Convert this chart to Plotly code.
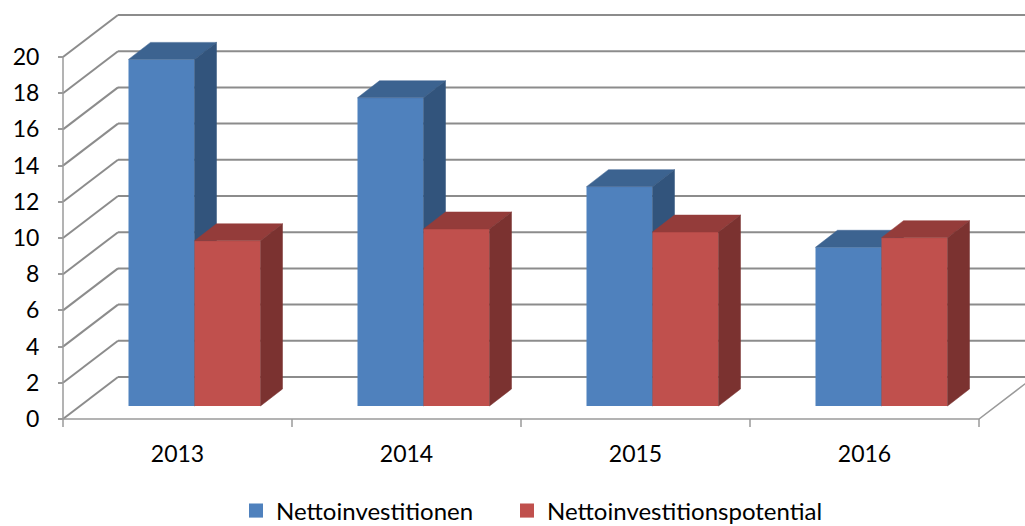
import plotly.graph_objects as go

# ---------------- data ----------------
categories = ["2013", "2014", "2015", "2016"]
netto = [19.15, 17.03, 12.12, 8.77]
potential = [9.13, 9.78, 9.61, 9.30]
y_ticks = [0, 2, 4, 6, 8, 10, 12, 14, 16, 18, 20]
series_names = ["Nettoinvestitionen", "Nettoinvestitionspotential"]

# ---------------- styling / geometry ----------------
W, H = 1025, 526
FONT = "Lato"
FS = 23
FS_LEG = 24
GRID = "#8c8c8c"
blue = dict(front="#4F81BD", top="#3C6390", side="#32547C")
red = dict(front="#C0504D", top="#943C3A", side="#7B3230")

# pixel mapping of the front plane
PX0, PY0 = 63, 419          # pixel of (x=0, y=0) on front plane
SX, SY = 229.0, 18.1        # px per category, px per value unit
L, R, T, B = 50, 1025, 5, 432  # plot area in px

xr = [(L - PX0) / SX, (R - PX0) / SX]
yr = [(PY0 - B) / SY, (PY0 - T) / SY]

# wall depth (front plane -> back wall)
dX, dY = 55 / SX, 42 / SY
# bar plane offset and bar depth
oX, oY = 17 / SX, 13 / SY
bX, bY = 22 / SX, 17 / SY
BW = 66 / SX  # bar width

n = len(categories)
centers = [i + 0.5 for i in range(n)]

fig = go.Figure()

# back wall gridlines + left wall diagonals
gx, gy = [], []
for v in y_ticks:
    gx += [dX, xr[1], None, 0, dX, None]
    gy += [v + dY, v + dY, None, v, v + dY, None]
fig.add_trace(go.Scatter(x=gx, y=gy, mode="lines", line=dict(color=GRID, width=2),
                         hoverinfo="skip", showlegend=False))
# floor front & right edges, y axis line, category ticks
fx = [0, n, n + dX, None, 0, 0, None]
fy = [0, 0, dY, None, 0, max(y_ticks), None]
for k in range(n + 1):
    fx += [k, k, None]
    fy += [0, -8 / SY, None]
fig.add_trace(go.Scatter(x=fx, y=fy, mode="lines", line=dict(color="#9a9a9a", width=1.5),
                         hoverinfo="skip", showlegend=False))


def add_series(vals, colors, xa, ya, left):
    xs = [c - BW if left else c for c in centers]
    fig.add_trace(go.Bar(x=[x + BW / 2 for x in xs], y=vals, width=BW,
                         marker=dict(color=colors["front"], line=dict(width=0)),
                         xaxis=xa, yaxis=ya, showlegend=False, hoverinfo="skip"))
    for x0, v in zip(xs, vals):
        x1 = x0 + BW
        # top face
        fig.add_trace(go.Scatter(
            x=[x0, x1, x1 + bX, x0 + bX, x0], y=[v, v, v + bY, v + bY, v],
            fill="toself", fillcolor=colors["top"], mode="lines",
            line=dict(color=colors["top"], width=0.5),
            xaxis=xa, yaxis=ya, showlegend=False, hoverinfo="skip"))
        # side face
        fig.add_trace(go.Scatter(
            x=[x1, x1, x1 + bX, x1 + bX, x1], y=[0, v, v + bY, bY, 0],
            fill="toself", fillcolor=colors["side"], mode="lines",
            line=dict(color=colors["side"], width=0.5),
            xaxis=xa, yaxis=ya, showlegend=False, hoverinfo="skip"))


add_series(netto, blue, "x2", "y2", True)
add_series(potential, red, "x3", "y3", False)

# legend entries (one legend per entry so they can be placed like the original)
for name, col, lg in zip(series_names, [blue["front"], red["front"]], ["legend", "legend2"]):
    fig.add_trace(go.Scatter(x=[None], y=[None], mode="markers", name=name, legend=lg,
                             marker=dict(symbol="square", size=14, color=col)))

LEG_Y = (H - 511) / H
leg_common = dict(orientation="h", xref="container", yref="container",
                  xanchor="left", yanchor="middle", y=LEG_Y,
                  font=dict(family=FONT, size=FS_LEG), bgcolor="rgba(0,0,0,0)")

fig.update_layout(
    width=W, height=H,
    margin=dict(l=L, r=W - R, t=T, b=H - B),
    paper_bgcolor="white", plot_bgcolor="rgba(0,0,0,0)",
    font=dict(family=FONT, size=FS, color="#000000"),
    hovermode=False,
    showlegend=True,
    legend=dict(x=236 / W, **leg_common),
    legend2=dict(x=507 / W, **leg_common),
    xaxis=dict(range=xr, anchor="free", position=(B - PY0) / (B - T),
               tickvals=centers, ticktext=categories, ticks="",
               showgrid=False, zeroline=False, showline=False,
               ticklabelstandoff=19, fixedrange=True),
    yaxis=dict(range=yr, anchor="free", position=(PX0 - L) / (R - L),
               tickvals=y_ticks, ticks="outside", ticklen=5, tickcolor="#9a9a9a",
               tickwidth=1.5, ticklabelstandoff=14,
               showgrid=False, zeroline=False, showline=False, fixedrange=True),
    xaxis2=dict(range=[xr[0] - oX, xr[1] - oX], overlaying="x", anchor="y2", visible=False),
    yaxis2=dict(range=[yr[0] - oY, yr[1] - oY], overlaying="y", anchor="x2", visible=False),
    xaxis3=dict(range=[xr[0] - oX, xr[1] - oX], overlaying="x", anchor="y3", visible=False),
    yaxis3=dict(range=[yr[0] - oY, yr[1] - oY], overlaying="y", anchor="x3", visible=False),
)

fig.write_html("out.html", config={"displayModeBar": False},
               post_script="document.body.style.margin='0';")
